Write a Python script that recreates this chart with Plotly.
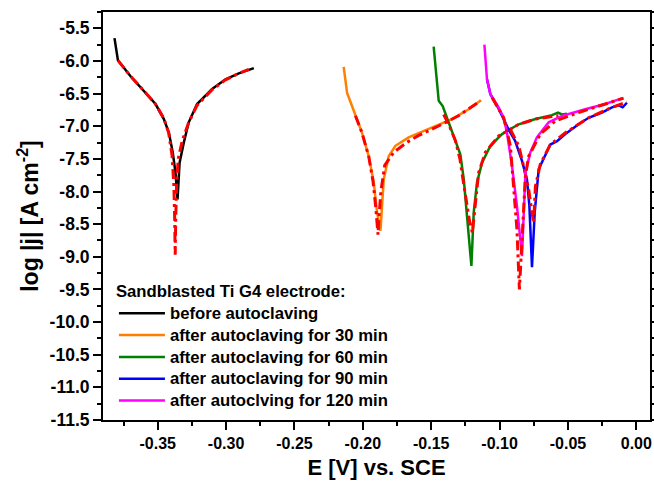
import plotly.graph_objects as go

# Potentiodynamic polarisation curves, sandblasted Ti G4
# measured curves (E in V vs SCE, log|j|)
E_before = [-0.3816, -0.3791, -0.3700, -0.3600, -0.3516, -0.3455, -0.3418, -0.3390, -0.3370,
            -0.3355, -0.3340, -0.3309, -0.3273, -0.3212, -0.3102, -0.3004, -0.2907, -0.2797]
J_before = [-5.65, -5.99, -6.23, -6.46, -6.66, -6.89, -7.10, -7.40, -7.71,
            -8.12, -7.56, -7.25, -6.94, -6.66, -6.43, -6.28, -6.19, -6.11]

E_30 = [-0.2140, -0.2115, -0.2079, -0.2006, -0.1957, -0.1920, -0.1896, -0.1871,
        -0.1847, -0.1811, -0.1762, -0.1665, -0.1518, -0.1348, -0.1226, -0.1136]
J_30 = [-6.09, -6.49, -6.69, -7.10, -7.46, -7.86, -8.32, -8.60,
        -7.81, -7.46, -7.30, -7.17, -7.04, -6.89, -6.74, -6.60]

E_60 = [-0.1482, -0.1445, -0.1416, -0.1372, -0.1323, -0.1287, -0.1262, -0.1238, -0.1206, -0.1189,
        -0.1165, -0.1128, -0.1067, -0.0982, -0.0860, -0.0738, -0.0617, -0.0573, -0.0544, -0.0507]
J_60 = [-5.78, -6.61, -6.69, -6.94, -7.20, -7.43, -7.81, -8.37, -9.14, -8.32,
        -7.86, -7.56, -7.30, -7.12, -6.97, -6.89, -6.83, -6.79, -6.82, -6.81]

E_90 = [-0.1092, -0.1067, -0.1007, -0.0934, -0.0885, -0.0836, -0.0800, -0.0782, -0.0763, -0.0743, -0.0714,
        -0.0665, -0.0629, -0.0580, -0.0519, -0.0422, -0.0349, -0.0251, -0.0178, -0.0129, -0.0100, -0.0069]
J_90 = [-6.28, -6.51, -6.73, -7.05, -7.23, -7.53, -7.81, -8.22, -9.16, -8.32, -7.66,
        -7.43, -7.28, -7.23, -7.12, -6.97, -6.87, -6.79, -6.71, -6.68, -6.71, -6.64]

E_120 = [-0.1111, -0.1092, -0.1067, -0.1007, -0.0970, -0.0946, -0.0909, -0.0873, -0.0836,
         -0.0824, -0.0811, -0.0775, -0.0727, -0.0641, -0.0544, -0.0373, -0.0227, -0.0100]
J_120 = [-5.75, -6.28, -6.51, -6.71, -6.87, -7.10, -7.61, -8.22, -8.99,
         -8.22, -7.71, -7.40, -7.17, -6.94, -6.84, -6.74, -6.66, -6.57]

# fitted curves (red dash-dot)
FE_before = [-0.3791, -0.3700, -0.3600, -0.3516, -0.3455, -0.3420, -0.3395, -0.3382, -0.3376, -0.3372,
             -0.3368, -0.3362, -0.3350, -0.3320, -0.3275, -0.3212, -0.3102, -0.3004, -0.2907, -0.2834]
FJ_before = [-5.99, -6.23, -6.46, -6.66, -6.88, -7.10, -7.45, -7.90, -8.40, -8.97,
             -8.40, -7.90, -7.50, -7.22, -6.95, -6.68, -6.44, -6.29, -6.19, -6.13]

FE_30 = [-0.2054, -0.2006, -0.1957, -0.1925, -0.1905, -0.1893, -0.1889, -0.1882,
         -0.1868, -0.1840, -0.1774, -0.1680, -0.1591, -0.1450, -0.1300, -0.1140]
FJ_30 = [-6.84, -7.10, -7.46, -7.85, -8.25, -8.50, -8.66, -8.40,
         -8.00, -7.60, -7.40, -7.25, -7.14, -7.00, -6.84, -6.61]

FE_60 = [-0.1409, -0.1372, -0.1323, -0.1290, -0.1265, -0.1240, -0.1220, -0.1199,
         -0.1180, -0.1153, -0.1104, -0.1007, -0.0860, -0.0738, -0.0617, -0.0570]
FJ_60 = [-6.82, -6.97, -7.22, -7.50, -7.85, -8.20, -8.45, -8.63,
         -8.20, -7.71, -7.40, -7.15, -6.97, -6.89, -6.85, -6.84]

FE_90 = [-0.0921, -0.0860, -0.0824, -0.0787, -0.0763, -0.0751, -0.0738,
         -0.0702, -0.0629, -0.0519, -0.0349, -0.0178, -0.0069]
FJ_90 = [-7.05, -7.30, -7.61, -7.97, -8.32, -8.48, -7.92,
         -7.58, -7.28, -7.10, -6.87, -6.71, -6.63]

FE_120 = [-0.1055, -0.0970, -0.0921, -0.0897, -0.0873, -0.0855, -0.0846, -0.0836,
          -0.0824, -0.0811, -0.0787, -0.0702, -0.0592, -0.0422, -0.0093]
FJ_120 = [-6.56, -6.87, -7.30, -7.97, -8.58, -9.50, -9.14, -8.63,
          -8.17, -7.76, -7.46, -7.12, -6.92, -6.79, -6.57]

labels = ['before autoclaving',
          'after autoclaving for 30 min',
          'after autoclaving for 60 min',
          'after autoclaving for 90 min',
          'after autoclving for 120 min']
colors = ['#000000', '#FF8000', '#008000', '#0000FF', '#FF00FF']

x_ticks = [-0.35, -0.30, -0.25, -0.20, -0.15, -0.10, -0.05, 0.00]
x_ticktext = ['-0.35', '-0.30', '-0.25', '-0.20', '-0.15', '-0.10', '-0.05', '0.00']
y_ticks = [-5.5, -6.0, -6.5, -7.0, -7.5, -8.0, -8.5, -9.0, -9.5, -10.0, -10.5, -11.0, -11.5]
y_ticktext = ['-5.5', '-6.0', '-6.5', '-7.0', '-7.5', '-8.0', '-8.5', '-9.0',
              '-9.5', '-10.0', '-10.5', '-11.0', '-11.5']

curves = [(E_before, J_before, FE_before, FJ_before),
          (E_30, J_30, FE_30, FJ_30),
          (E_60, J_60, FE_60, FJ_60),
          (E_90, J_90, FE_90, FJ_90),
          (E_120, J_120, FE_120, FJ_120)]

font = 'Liberation Sans, Arial, sans-serif'


def big(s):
    # legend text drawn larger than the row spacing font
    return '<span style="font-size:16.7px"><b>' + s + '</b></span>'


fig = go.Figure()

for (e, j, fe, fj), name, c in zip(curves, labels, colors):
    fig.add_trace(go.Scatter(x=e, y=j, mode='lines', name=big(name),
                             line=dict(color=c, width=2.5)))
    fig.add_trace(go.Scatter(x=fe, y=fj, mode='lines', showlegend=False,
                             line=dict(color='#FF0000', width=3, dash='10px,4px,3px,4px')))

fig.update_xaxes(range=[-0.39, 0.01], automargin=False,
                 tickvals=x_ticks, ticktext=x_ticktext,
                 ticks='outside', ticklen=8, tickwidth=2, tickcolor='black',
                 minor=dict(dtick=0.025, tick0=0, ticks='outside', ticklen=4, tickwidth=2, tickcolor='black'),
                 showline=True, linewidth=2, linecolor='black', mirror=True,
                 showgrid=False, zeroline=False,
                 tickfont=dict(family=font, size=16, color='black', weight='bold'),
                 title=dict(text='<b>E [V] vs. SCE</b>', font=dict(family=font, size=22, color='black'),
                            standoff=8))

fig.update_yaxes(range=[-11.5, -5.25], automargin=False,
                 tickvals=y_ticks, ticktext=y_ticktext,
                 ticks='outside', ticklen=8, tickwidth=2, tickcolor='black',
                 minor=dict(dtick=0.25, tick0=0, ticks='outside', ticklen=4, tickwidth=2, tickcolor='black'),
                 showline=True, linewidth=2, linecolor='black', mirror='allticks',
                 showgrid=False, zeroline=False,
                 tickfont=dict(family=font, size=17.5, color='black', weight='bold'),
                 title=dict(text='<b>log |j| [A cm<sup>-2</sup>]</b>', font=dict(family=font, size=23, color='black'),
                            standoff=5))

fig.update_layout(width=654, height=486,
                  margin=dict(l=103, r=3.5, t=12, b=66),
                  paper_bgcolor='white', plot_bgcolor='white',
                  font=dict(family=font, color='black'),
                  legend=dict(x=0.020, y=0.347, xanchor='left', yanchor='top',
                              bgcolor='rgba(0,0,0,0)', itemwidth=46,
                              traceorder='normal', tracegroupgap=0,
                              title=dict(text=big('Sandblasted Ti G4 electrode:'),
                                         font=dict(family=font, size=14.5, color='black')),
                              font=dict(family=font, size=14.5, color='black')))

# drop the default page margin so the figure sits at the window corner
fig.write_html('out.html', config={'displayModeBar': False},
               post_script="document.body.style.margin='0';")
